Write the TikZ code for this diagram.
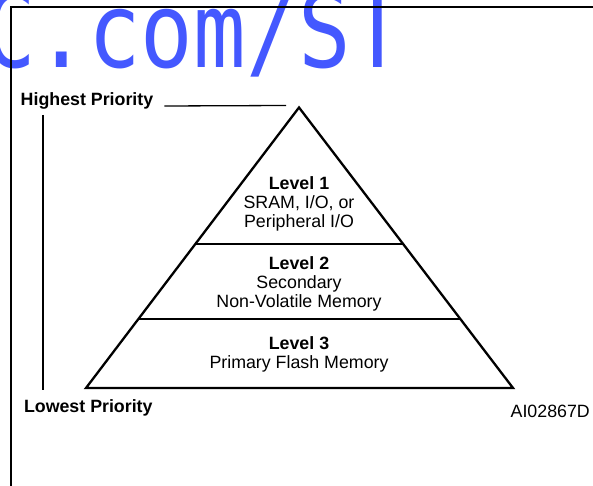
\documentclass[tikz,border=0pt]{standalone}
\usepackage{fontspec}
\setmainfont{Liberation Sans}
\newfontfamily\wmfont{DejaVu Sans Mono}
\usetikzlibrary{calc}
\definecolor{wmblue}{RGB}{68,88,255}
\begin{document}
\begin{tikzpicture}[x=1pt,y=-1pt,
	lbl/.style={inner sep=0pt,font=\fontsize{17.8}{18.8}\selectfont},
	lvl/.style={lbl,align=center,anchor=base}]
	\useasboundingbox (0,0) rectangle (593,486);
	
	% watermark
	\node[anchor=base west,inner sep=0pt,text=wmblue,font=\wmfont\fontsize{104}{104}\selectfont] (wm) at (-17,68) {\scalebox{0.84}[1]{C.com/ST}};
	
	% frame
	\draw[line width=2pt] (10.5,490) -- (10.5,7.5) -- (600,7.5);
	
	% pyramid
	\coordinate (apex) at (299,107.5);
	\coordinate (bl) at (86,388);
	\coordinate (br) at (513,388);
	\draw[line width=2.3pt] (bl) -- (apex) -- (br) -- cycle;
	\coordinate (d1l) at ($(apex)!0.4866!(bl)$);
	\coordinate (d1r) at ($(apex)!0.4866!(br)$);
	\coordinate (d2l) at ($(apex)!0.754!(bl)$);
	\coordinate (d2r) at ($(apex)!0.754!(br)$);
	\draw[line width=1.6pt] (d1l) -- (d1r);
	\draw[line width=1.6pt] (d2l) -- (d2r);
	
	% levels (base = last line)
	\node[lvl] (lv1) at (299,227) {\textbf{Level 1}\\SRAM, I/O, or\\Peripheral I/O};
	\node[lvl] (lv2) at (299,307) {\textbf{Level 2}\\Secondary\\Non-Volatile Memory};
	\node[lvl] (lv3) at (299,368) {\textbf{Level 3}\\Primary Flash Memory};
	
	% priority scale
	\node[lbl,anchor=base west] (hi) at (20.5,106) {\textbf{Highest Priority}};
	\node[lbl,anchor=base west] (lo) at (23.8,412.3) {\textbf{Lowest Priority}};
	\coordinate (hiend) at (286,105.5);
	\draw[line width=1.3pt] ([xshift=11pt]hi.base east) -- (hiend);
	\coordinate (scaletop) at (43,115);
	\coordinate (scalebot) at (43,390);
	\draw[line width=1.3pt] (scaletop) -- (scalebot);
	
	\node[lbl,anchor=base east] (code) at (590,417.3) {AI02867D};
\end{tikzpicture}
\end{document}
